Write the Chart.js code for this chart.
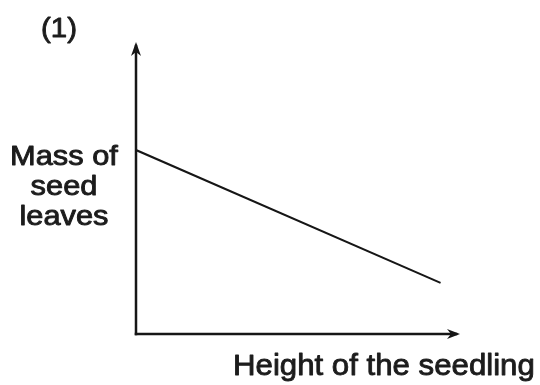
<!DOCTYPE html>
<html>
<head>
<meta charset="utf-8">
<style>
  html, body { margin: 0; padding: 0; background: #ffffff; }
  #wrap { width: 540px; height: 385px; position: relative; }
</style>
<script src="https://cdn.jsdelivr.net/npm/chart.js@4.4.1/dist/chart.umd.min.js"></script>
</head>
<body>
<div id="wrap"><canvas id="c" width="540" height="385"></canvas></div>
<script>
// Seedling height (x) against mass of the seed leaves (y), arbitrary units
const seedlingHeight = [0, 9.4];
const seedLeafMass = [6.3, 1.75];
const axisMax = { x: 10, y: 10 };

const panelLabel = '(1)';
const yAxisLabel = ['Mass of', 'seed', 'leaves'];
const xAxisLabel = 'Height of the seedling';

const ink = '#161616';
const textInk = '#1c1c1c';

// Slightly widened, heavier sans text
function drawLabel(ctx, text, x, y, size, align, stretch) {
  ctx.save();
  ctx.font = size + 'px "Liberation Sans", Arial, sans-serif';
  ctx.textAlign = align;
  ctx.textBaseline = 'alphabetic';
  ctx.translate(x, y);
  ctx.scale(stretch, 1);
  ctx.fillStyle = textInk;
  ctx.strokeStyle = textInk;
  ctx.lineWidth = 0.9;
  ctx.lineJoin = 'round';
  ctx.fillText(text, 0, 0);
  ctx.strokeText(text, 0, 0);
  ctx.restore();
}

// Hand-drawn style axes with arrowheads plus the free-standing labels
const sketchAxes = {
  id: 'sketchAxes',
  afterDraw(chart) {
    const { ctx, chartArea: a } = chart;
    ctx.save();
    ctx.strokeStyle = ink;
    ctx.fillStyle = ink;
    ctx.lineWidth = 2.5;
    ctx.lineCap = 'square';

    // vertical axis
    ctx.beginPath();
    ctx.moveTo(a.left, a.bottom);
    ctx.lineTo(a.left, a.top + 4);
    ctx.stroke();
    // horizontal axis
    ctx.beginPath();
    ctx.moveTo(a.left, a.bottom);
    ctx.lineTo(a.right - 4, a.bottom);
    ctx.stroke();

    // arrowheads
    ctx.beginPath();
    ctx.moveTo(a.left, a.top);
    ctx.lineTo(a.left - 5, a.top + 14);
    ctx.lineTo(a.left, a.top + 10);
    ctx.lineTo(a.left + 5, a.top + 14);
    ctx.closePath();
    ctx.fill();

    ctx.beginPath();
    ctx.moveTo(a.right, a.bottom);
    ctx.lineTo(a.right - 13, a.bottom - 5);
    ctx.lineTo(a.right - 9, a.bottom);
    ctx.lineTo(a.right - 13, a.bottom + 5);
    ctx.closePath();
    ctx.fill();
    ctx.restore();

    // labels
    drawLabel(ctx, panelLabel, 59, 37, 28, 'center', 1.05);
    const lineGap = 30;
    yAxisLabel.forEach((t, i) => {
      drawLabel(ctx, t, 64, 165 + i * lineGap, 28, 'center', 1.1);
    });
    drawLabel(ctx, xAxisLabel, 233, 375, 30, 'left', 1.04);
  }
};

new Chart(document.getElementById('c'), {
  type: 'scatter',
  data: {
    datasets: [{
      data: seedlingHeight.map((h, i) => ({ x: h, y: seedLeafMass[i] })),
      showLine: true,
      borderColor: ink,
      borderWidth: 2,
      pointRadius: 0,
      tension: 0
    }]
  },
  options: {
    responsive: false,
    animation: false,
    events: [],
    layout: { padding: { left: 136, right: 80, top: 42, bottom: 51 } },
    plugins: { legend: { display: false }, tooltip: { enabled: false } },
    scales: {
      x: { type: 'linear', display: false, min: 0, max: axisMax.x },
      y: { type: 'linear', display: false, min: 0, max: axisMax.y }
    }
  },
  plugins: [sketchAxes]
});
</script>
</body>
</html>
